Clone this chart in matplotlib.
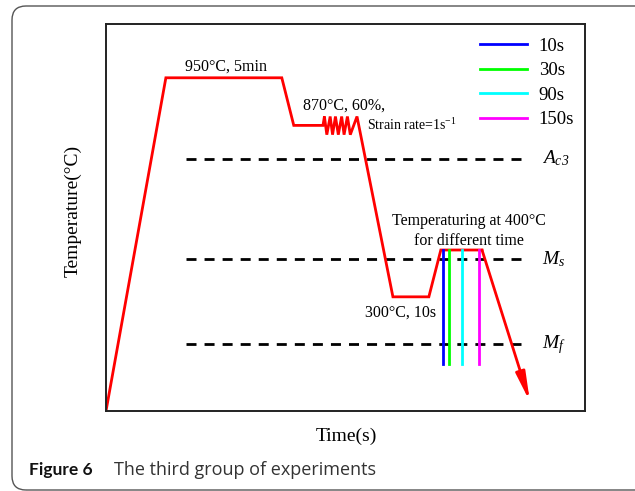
import matplotlib
matplotlib.use("Agg")
import matplotlib.pyplot as plt
from matplotlib.patches import FancyBboxPatch

plt.rcParams['font.family'] = 'Liberation Serif'
plt.rcParams['mathtext.fontset'] = 'custom'
plt.rcParams['mathtext.rm'] = 'Liberation Serif'
plt.rcParams['mathtext.it'] = 'Liberation Serif:italic'
plt.rcParams['mathtext.sf'] = 'Liberation Serif:italic'

# schematic heat-treatment route (arbitrary units, 0-100 on both axes)
route_time = [0, 12.5, 36.7, 39.2, 45.3,
              45.6, 46.1, 46.8, 47.3, 47.9, 48.5, 49.2, 49.7, 50.4, 51.0, 52.4,
              59.9, 67.4, 69.9, 78.5]
route_temp = [0, 86.1, 86.1, 73.8, 73.8,
              76.1, 71.4, 76.1, 71.4, 76.1, 71.4, 76.1, 71.4, 76.1, 71.4, 76.1,
              29.5, 29.5, 41.6, 41.6]
quench_end = (88.5, 2.4)

# critical temperatures (dashed lines)
crit_names = [r'$A_{c\mathsf{3}}$', r'$M_s$', r'$M_f$']
crit_temp = [65.2, 39.3, 17.4]
crit_span = (16.7, 88.1)

# tempering times
hold_labels = ['10s', '30s', '90s', '150s']
hold_time = [70.3, 71.7, 74.4, 77.9]
hold_colors = ['#0000ff', '#00ff00', '#00ffff', '#ff00ff']
hold_top = 41.6
hold_bottom = 12.1

fig = plt.figure(figsize=(6.35, 4.91), dpi=100)
ax = fig.add_axes([106 / 635, 1 - 411 / 491, 479 / 635, 387 / 491])
ax.set_xlim(0, 100)
ax.set_ylim(0, 100)
ax.set_xticks([])
ax.set_yticks([])
for s in ax.spines.values():
    s.set_color('#222222')
    s.set_linewidth(1.4)

# critical temperature lines
for name, T in zip(crit_names, crit_temp):
    ax.plot(crit_span, [T, T], color='black', lw=2, ls=(0, (3.6, 2.9)))
    ax.text(91.0, T - 1.3, name, fontsize=14, ha='left', va='baseline')

# route
ax.plot(route_time, route_temp, color='red', lw=2, solid_joinstyle='miter')
ax.annotate('', xy=quench_end, xytext=(route_time[-1], route_temp[-1]),
            arrowprops=dict(arrowstyle='-|>,head_length=1.7,head_width=0.28',
                            color='red', lw=2, shrinkA=0, shrinkB=0,
                            mutation_scale=10))

# tempering time markers
handles = []
for t, c, lab in zip(hold_time, hold_colors, hold_labels):
    h, = ax.plot([t, t], [hold_bottom, hold_top], color=c, lw=2, label=lab)
    handles.append(h)

ax.legend(handles=handles, loc='upper right', bbox_to_anchor=(1.0, 0.994),
          frameon=False, fontsize=13.5,
          handlelength=2.5, handletextpad=0.6, labelspacing=0.4,
          borderaxespad=-0.06, borderpad=0.65)

# annotations
ax.text(25.1, 87.9, '950°C, 5min', fontsize=11.5, ha='center', va='baseline')
ax.text(41.1, 77.8, '870°C, 60%,', fontsize=11.5, ha='left', va='baseline')
ax.text(54.5, 72.6, r'Strain rate=1s$^{-1}$', fontsize=10, ha='left', va='baseline')
ax.text(75.7, 48.1, 'Temperaturing at 400°C', fontsize=11.5, ha='center', va='baseline')
ax.text(75.7, 42.9, 'for different time', fontsize=11.5, ha='center', va='baseline')
ax.text(68.9, 24.4, '300°C, 10s', fontsize=11.5, ha='right', va='baseline')

ax.set_ylabel('Temperature(°C)', fontsize=14)
ax.yaxis.set_label_coords(-0.05, 0.517)
ax.set_xlabel('Time(s)', fontsize=14)
ax.xaxis.set_label_coords(0.501, -0.044)

# caption box
fig.add_artist(FancyBboxPatch((12, 1), 660, 484,
                              boxstyle='round,pad=0,rounding_size=14',
                              transform=None, fill=False, ec='#555555', lw=1))
fig.text(29 / 635, 1 - 475 / 491, 'Figure 6', fontsize=12.5, family='Lato',
         weight='bold', color='#111111', va='baseline')
fig.text(114 / 635, 1 - 475 / 491, 'The third group of experiments', fontsize=13,
         family='Open Sans', color='#333333', va='baseline')

fig.savefig('out.png', dpi=100)
